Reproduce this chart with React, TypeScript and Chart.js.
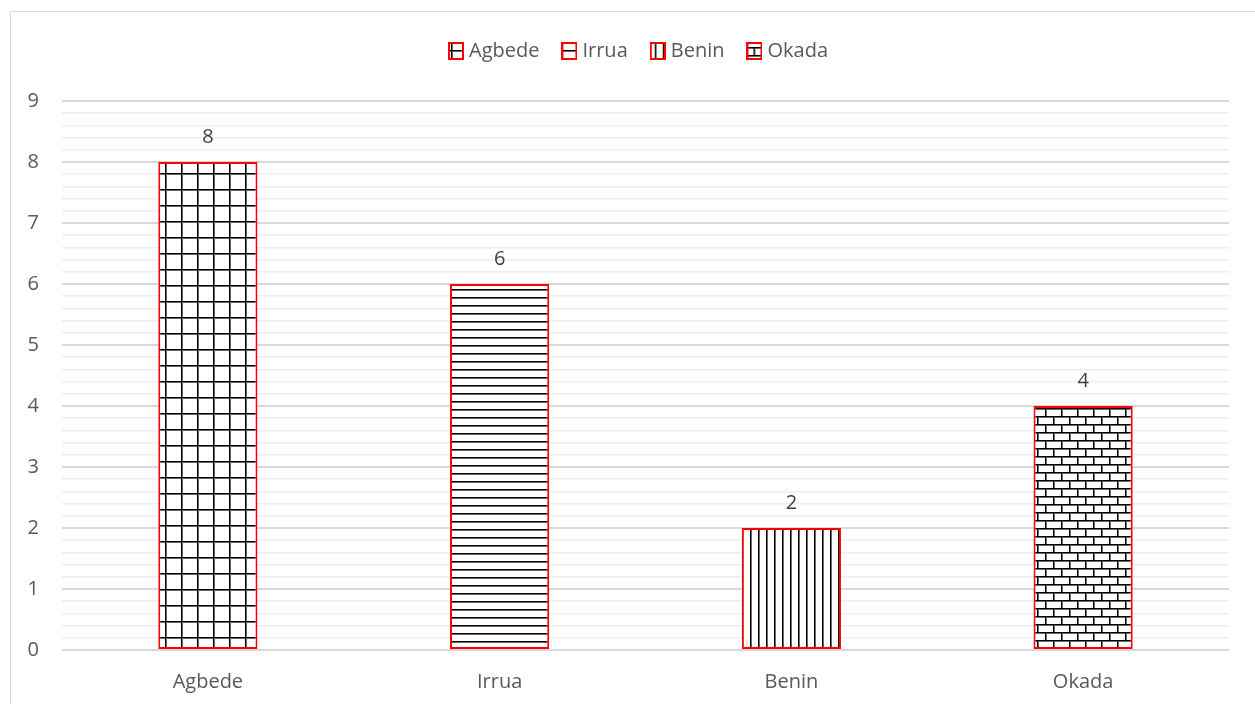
import React, { useEffect, useRef } from 'react';
import { Chart, registerables } from 'chart.js';

Chart.register(...registerables);

const categories = ['Agbede', 'Irrua', 'Benin', 'Okada'];
const values = [8, 6, 2, 4];
const patternKinds = ['grid', 'horizontal', 'vertical', 'brick'];
const yMin = 0;
const yMax = 9;
const yMinorStep = 0.2;

const FONT = '"Open Sans", "DejaVu Sans", sans-serif';

function makeTile(kind: string): HTMLCanvasElement {
  const c = document.createElement('canvas');
  const w = kind === 'grid' || kind === 'brick' ? 16 : 8;
  const h = kind === 'grid' || kind === 'brick' ? 16 : 8;
  c.width = w;
  c.height = h;
  const ctx = c.getContext('2d')!;
  ctx.fillStyle = '#ffffff';
  ctx.fillRect(0, 0, w, h);
  const line = (x: number, y: number, lw: number, lh: number) => {
    ctx.fillStyle = '#000000';
    ctx.fillRect(x, y, lw, lh);
  };
  const soft = (x: number, y: number, lw: number, lh: number) => {
    ctx.fillStyle = '#6a6a6a';
    ctx.fillRect(x, y, lw, lh);
  };
  if (kind === 'grid') {
    soft(0, 1, w, 1);
    soft(1, 0, 1, h);
    line(0, 0, w, 1);
    line(0, 0, 1, h);
  } else if (kind === 'horizontal') {
    soft(0, 1, w, 1);
    line(0, 0, w, 1);
  } else if (kind === 'vertical') {
    soft(1, 0, 1, h);
    line(0, 0, 1, h);
  } else if (kind === 'brick') {
    soft(0, 1, w, 1);
    soft(0, 9, w, 1);
    soft(1, 0, 1, 8);
    soft(9, 8, 1, 8);
    line(0, 0, w, 1);
    line(0, 8, w, 1);
    line(0, 0, 1, 8);
    line(8, 8, 1, 8);
  }
  return c;
}

function shiftTile(tile: HTMLCanvasElement, dx: number, dy: number): HTMLCanvasElement {
  const c = document.createElement('canvas');
  c.width = tile.width;
  c.height = tile.height;
  const ctx = c.getContext('2d')!;
  for (const ox of [dx - tile.width, dx]) {
    for (const oy of [dy - tile.height, dy]) {
      ctx.drawImage(tile, ox, oy);
    }
  }
  return c;
}

const barTileShifts: Array<[number, number]> = [
  [10, 1],
  [0, 5],
  [3, 0],
  [2, 4],
];

const iconOffsets: Array<[number, number]> = [
  [3, 8],
  [0, 8],
  [5, 0],
  [7, 5],
];

function makeIcon(tile: HTMLCanvasElement, off: [number, number]): HTMLCanvasElement {
  const c = document.createElement('canvas');
  c.width = 16;
  c.height = 18;
  const ctx = c.getContext('2d')!;
  const pat = ctx.createPattern(tile, 'repeat')!;
  ctx.save();
  ctx.translate(off[0], off[1]);
  ctx.fillStyle = pat;
  ctx.fillRect(-off[0], -off[1], 16, 18);
  ctx.restore();
  ctx.strokeStyle = '#ff0000';
  ctx.lineWidth = 2;
  ctx.strokeRect(1, 1, 14, 16);
  return c;
}

const isMajor = (v: number) => Math.abs(v - Math.round(v)) < 1e-6;

export default function App() {
  const ref = useRef<HTMLCanvasElement | null>(null);

  useEffect(() => {
    const canvas = ref.current!;
    const ctx = canvas.getContext('2d')!;
    const tiles = patternKinds.map(makeTile);
    const patterns = tiles.map(
      (t, i) => ctx.createPattern(shiftTile(t, barTileShifts[i][0], barTileShifts[i][1]), 'repeat')!
    );
    const icons = tiles.map((t, i) => makeIcon(t, iconOffsets[i]));

    const dataLabels = {
      id: 'dataLabels',
      afterDatasetsDraw(chart: any) {
        const c = chart.ctx;
        const meta = chart.getDatasetMeta(0);
        c.save();
        c.font = `20px ${FONT}`;
        c.fillStyle = '#404040';
        c.textAlign = 'center';
        c.textBaseline = 'middle';
        meta.data.forEach((bar: any, i: number) => {
          c.fillText(String(values[i]), bar.x, bar.y - 25);
        });
        c.restore();
      },
    };

    const chart = new Chart(canvas, {
      type: 'bar',
      data: {
        labels: categories,
        datasets: [
          {
            data: values,
            backgroundColor: patterns as any,
            borderColor: '#ff0000',
            borderWidth: 2,
            borderSkipped: false,
            barPercentage: 0.34,
            categoryPercentage: 1,
            yAxisID: 'y',
          },
        ],
      },
      options: {
        responsive: false,
        animation: false,
        devicePixelRatio: 1,
        layout: { padding: { top: 2, right: 0, bottom: 0, left: 0 } },
        plugins: {
          tooltip: { enabled: false },
          title: {
            display: true,
            text: '',
            weight: 500,
            font: { size: 1, lineHeight: 1 },
            padding: { top: 0, bottom: 29 },
          } as any,
          legend: {
            display: true,
            position: 'top',
            labels: {
              usePointStyle: true,
              pointStyleWidth: 6,
              padding: 27,
              color: '#595959',
              font: { family: FONT, size: 20 },
              generateLabels: () =>
                categories.map((c, i) => ({
                  text: c,
                  pointStyle: icons[i] as any,
                  fillStyle: '#ffffff',
                  strokeStyle: '#ff0000',
                  lineWidth: 0,
                  hidden: false,
                  index: i,
                  datasetIndex: 0,
                  fontColor: '#595959',
                })),
            },
          },
        },
        scales: {
          x: {
            afterFit: (axis: any) => {
              axis.height = 54;
            },
            grid: { display: false, drawTicks: false },
            border: { display: false },
            ticks: {
              color: '#595959',
              font: { family: FONT, size: 20 },
              padding: 20,
            },
          },
          y: {
            min: yMin,
            max: yMax,
            position: 'left',
            afterFit: (axis: any) => {
              axis.width = 51;
            },
            border: { display: false },
            grid: {
              drawTicks: false,
              color: (c: any) => (isMajor(c.tick.value) ? '#d9d9d9' : '#eeeeee'),
              lineWidth: (c: any) => (isMajor(c.tick.value) ? 2 : 1.5),
            },
            ticks: {
              stepSize: yMinorStep,
              autoSkip: false,
              color: '#595959',
              font: { family: FONT, size: 20 },
              padding: 23,
              callback: (v: any) => (isMajor(Number(v)) ? String(Math.round(Number(v))) : ''),
            },
          },
          yRight: {
            type: 'linear',
            position: 'right',
            min: yMin,
            max: yMax,
            afterFit: (axis: any) => {
              axis.width = 41;
            },
            border: { display: false },
            grid: { display: false, drawTicks: false },
            ticks: { display: false },
          },
        },
      },
      plugins: [dataLabels],
    });
    return () => chart.destroy();
  }, []);

  return (
    <div
      style={{
        position: 'absolute',
        left: 10,
        top: 11,
        width: 1244,
        height: 692,
        overflow: 'hidden',
        borderLeft: '1px solid #d9d9d9',
        borderTop: '1px solid #d9d9d9',
        background: '#ffffff',
      }}
    >
      <canvas ref={ref} width={1259} height={692} style={{ display: 'block' }} />
    </div>
  );
}
